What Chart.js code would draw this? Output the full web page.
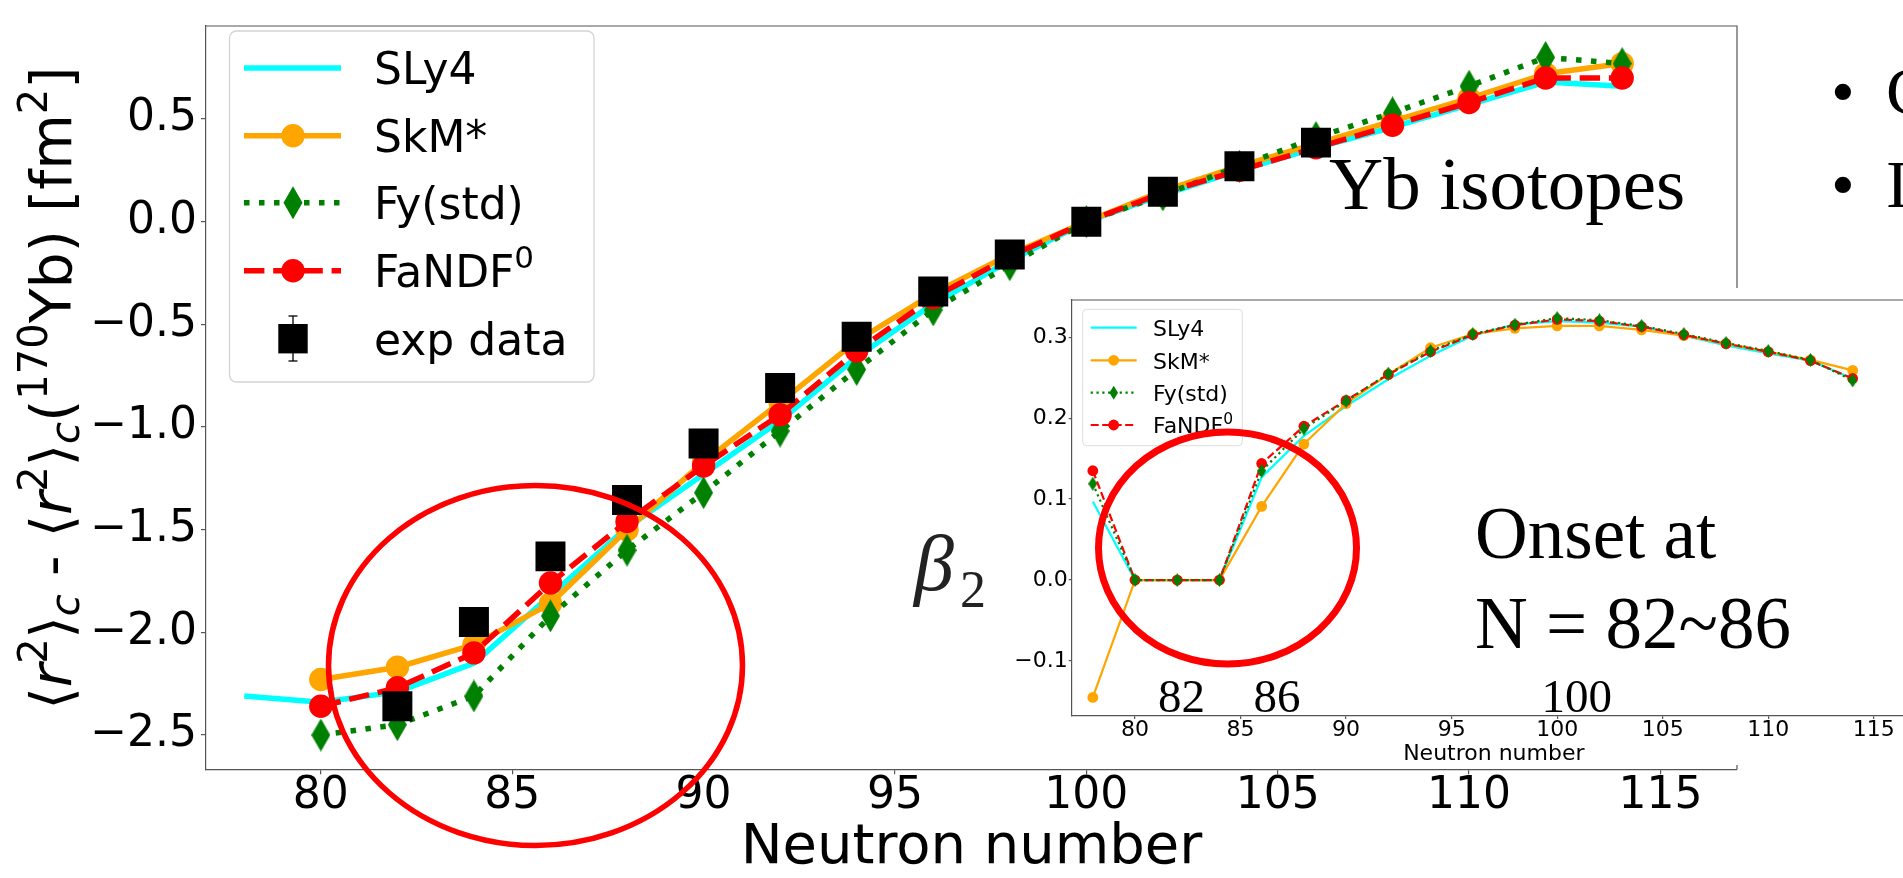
<!DOCTYPE html>
<html><head><meta charset="utf-8">
<script src="https://cdn.jsdelivr.net/npm/chart.js@4.4.1/dist/chart.umd.min.js"></script>
<style>
html,body{margin:0;padding:0;width:1903px;height:878px;overflow:hidden;background:#fff;}
#main{position:absolute;left:0;top:0;}
#insetBg{position:absolute;left:1005px;top:288px;width:898px;height:477px;background:#fff;}
#inset{position:absolute;left:1000px;top:288px;}
#ov{position:absolute;left:0;top:0;}
</style></head><body>
<canvas id="main" width="1903" height="878"></canvas>
<div id="insetBg"></div>
<canvas id="inset" width="930" height="480"></canvas>
<svg id="ov" width="1903" height="878" xmlns="http://www.w3.org/2000/svg">
  <!-- main y-axis title -->
  <text transform="translate(71,388) rotate(-90)" text-anchor="middle" font-family="DejaVu Sans" font-size="57" fill="#000">⟨<tspan font-style="italic">r</tspan><tspan font-size="40" dy="-24">2</tspan><tspan dy="24">⟩</tspan><tspan font-style="italic" font-size="40" dy="8">c</tspan><tspan dy="-8"> - ⟨</tspan><tspan font-style="italic">r</tspan><tspan font-size="40" dy="-24">2</tspan><tspan dy="24">⟩</tspan><tspan font-style="italic" font-size="40" dy="8">c</tspan><tspan dy="-8">(</tspan><tspan font-size="40" dy="-24">170</tspan><tspan dy="24">Yb) [fm</tspan><tspan font-size="40" dy="-24">2</tspan><tspan dy="24">]</tspan></text>

  <!-- main legend -->
  <rect x="229.5" y="31" width="364.5" height="351" rx="7" fill="#fff" fill-opacity="0.85" stroke="#d4d4d4" stroke-width="1.3"/>
  <line x1="244" y1="68" x2="341" y2="68" stroke="#00ffff" stroke-width="5.5"/>
  <line x1="244" y1="135.7" x2="341" y2="135.7" stroke="#ffa500" stroke-width="5.5"/>
  <circle cx="293" cy="135.7" r="11.7" fill="#ffa500"/>
  <line x1="244" y1="202.7" x2="341" y2="202.7" stroke="#008000" stroke-width="5.5" stroke-dasharray="5.5 9.5"/>
  <polygon points="293,186.2 302.5,202.7 293,219.2 283.5,202.7" fill="#008000"/>
  <line x1="244" y1="270.7" x2="341" y2="270.7" stroke="#ff0000" stroke-width="5.5" stroke-dasharray="20.4 8.8"/>
  <circle cx="293" cy="270.7" r="11.7" fill="#ff0000"/>
  <line x1="293" y1="316" x2="293" y2="361" stroke="#000" stroke-width="1.3"/>
  <line x1="288.5" y1="316" x2="297.5" y2="316" stroke="#000" stroke-width="1.3"/>
  <line x1="288.5" y1="361" x2="297.5" y2="361" stroke="#000" stroke-width="1.3"/>
  <rect x="278.3" y="324" width="29.4" height="29.4" fill="#000"/>
  <g font-family="DejaVu Sans" font-size="44" fill="#000">
    <text x="374" y="84">SLy4</text>
    <text x="374" y="151.7">SkM*</text>
    <text x="374" y="218.7">Fy(std)</text>
    <text x="374" y="286.7">FaNDF<tspan font-size="31" dy="-19">0</tspan></text>
    <text x="374" y="354.7">exp data</text>
  </g>

  <!-- slide annotations -->
  <text x="1329" y="209" font-family="Liberation Serif" font-size="75" fill="#000">Yb isotopes</text>
  <text x="1831" y="114" font-family="Liberation Serif" font-size="68" fill="#000">•</text>
  <text x="1886" y="114" font-family="Liberation Serif" font-size="68" fill="#000">C</text>
  <text x="1831" y="207" font-family="Liberation Serif" font-size="68" fill="#000">•</text>
  <text x="1886" y="207" font-family="Liberation Serif" font-size="68" fill="#000">I</text>
  <text x="914" y="590" font-family="Liberation Serif" font-style="italic" font-size="80" fill="#222">β</text>
  <text x="960" y="607" font-family="Liberation Serif" font-size="52" fill="#222">2</text>

  <!-- inset legend -->
  <rect x="1082.7" y="309.3" width="159.6" height="136.4" rx="4" fill="#fff" fill-opacity="0.85" stroke="#dddddd" stroke-width="1"/>
  <line x1="1090.7" y1="327.7" x2="1136.7" y2="327.7" stroke="#00ffff" stroke-width="2.2"/>
  <line x1="1090.7" y1="360.3" x2="1136.7" y2="360.3" stroke="#ffa500" stroke-width="2.2"/>
  <circle cx="1113.7" cy="360.3" r="5.4" fill="#ffa500"/>
  <line x1="1090.7" y1="392.7" x2="1136.7" y2="392.7" stroke="#008000" stroke-width="2.2" stroke-dasharray="2.2 3.6"/>
  <polygon points="1113.7,385.7 1118,392.7 1113.7,399.7 1109.4,392.7" fill="#008000"/>
  <line x1="1090.7" y1="425" x2="1136.7" y2="425" stroke="#ff0000" stroke-width="2.2" stroke-dasharray="8 3.5"/>
  <circle cx="1113.7" cy="425" r="5.4" fill="#ff0000"/>
  <g font-family="DejaVu Sans" font-size="22" fill="#000">
    <text x="1153" y="336">SLy4</text>
    <text x="1153" y="368.6">SkM*</text>
    <text x="1153" y="401">Fy(std)</text>
    <text x="1153" y="433.3">FaNDF<tspan font-size="15.5" dy="-9">0</tspan></text>
  </g>

  <text x="1475" y="558" font-family="Liberation Serif" font-size="73" fill="#000">Onset at</text>
  <text x="1475" y="648" font-family="Liberation Serif" font-size="73" fill="#000">N = 82~86</text>
  <text x="1158" y="711.7" font-family="Liberation Serif" font-size="47" fill="#000">82</text>
  <text x="1253.5" y="711.7" font-family="Liberation Serif" font-size="47" fill="#000">86</text>
  <text x="1541.5" y="711.7" font-family="Liberation Serif" font-size="47" fill="#000">100</text>

  <!-- red ellipses -->
  <ellipse cx="535.5" cy="665.5" rx="207" ry="180" fill="none" stroke="#ff0000" stroke-width="5.5"/>
  <ellipse cx="1227.5" cy="548" rx="129" ry="116" fill="none" stroke="#ff0000" stroke-width="7"/>
</svg>
<script>
// ---------- data ----------
const neutronN = [78,80,82,84,86,88,90,92,94,96,98,100,102,104,106,108,110,112,114];
// main panel: <r^2>_c - <r^2>_c(170Yb) [fm^2]
const radSLy4  = [-2.31,-2.34,-2.29,-2.15,-1.82,-1.49,-1.23,-0.97,-0.66,-0.40,-0.19,0,0.13,0.25,0.36,0.46,0.57,0.68,0.66];
const radSkM   = [null,-2.23,-2.17,-2.06,-1.86,-1.50,-1.17,-0.88,-0.58,-0.35,-0.16,0,0.15,0.27,0.38,0.49,0.60,0.72,0.77];
const radFy    = [null,-2.50,-2.45,-2.31,-1.92,-1.60,-1.32,-1.02,-0.72,-0.43,-0.21,0,0.13,0.27,0.41,0.53,0.66,0.80,0.77];
const radFaNDF = [null,-2.36,-2.27,-2.10,-1.76,-1.46,-1.19,-0.94,-0.63,-0.37,-0.17,0,0.14,0.25,0.36,0.47,0.58,0.70,0.70];
const expN     = [82,84,86,88,90,92,94,96,98,100,102,104,106];
const expRad   = [-2.36,-1.95,-1.63,-1.355,-1.08,-0.81,-0.56,-0.34,-0.16,0,0.146,0.27,0.385];
// inset: beta2
const beta2SLy4  = [0.097,0,0,0,0.127,0.178,0.215,0.248,0.277,0.302,0.316,0.320,0.318,0.313,0.302,0.290,0.280,0.271,0.249];
const beta2SkM   = [-0.145,0,0,0,0.091,0.168,0.218,0.254,0.287,0.304,0.311,0.314,0.314,0.309,0.302,0.292,0.282,0.272,0.259];
const beta2Fy    = [0.119,0,0,0,0.135,0.187,0.221,0.255,0.283,0.304,0.3155,0.3237,0.321,0.314,0.304,0.293,0.283,0.272,0.2466];
const beta2FaNDF = [0.135,0,0,0,0.144,0.190,0.222,0.254,0.282,0.303,0.315,0.322,0.320,0.313,0.303,0.292,0.282,0.271,0.249];
// ticks
const mainXTicks  = [80,85,90,95,100,105,110,115];
const mainYTicks  = [-2.5,-2.0,-1.5,-1.0,-0.5,0.0,0.5];
const insetXTicks = [80,85,90,95,100,105,110,115];
const insetYTicks = [-0.1,0.0,0.1,0.2,0.3];

// ---------- helpers ----------
function pts(xs, ys){ const out=[]; xs.forEach((x,i)=>{ if(ys[i]!==null && ys[i]!==undefined) out.push({x:x,y:ys[i]}); }); return out; }
function diamond(w,h,color){
  const c=document.createElement('canvas'); c.width=w; c.height=h;
  const g=c.getContext('2d'); g.fillStyle=color; g.beginPath();
  g.moveTo(w/2,0); g.lineTo(w,h/2); g.lineTo(w/2,h); g.lineTo(0,h/2); g.closePath(); g.fill(); return c;
}
const fmtY = v => (v<0?'\u2212':'') + Math.abs(v).toFixed(1);
const spineColor = '#555';
function framePlugin(id){ return {id:id, afterDraw(c){ const {ctx, chartArea:a}=c; ctx.save(); ctx.strokeStyle=spineColor; ctx.lineWidth=1.2; ctx.beginPath(); ctx.moveTo(a.left,a.top); ctx.lineTo(a.right,a.top); ctx.lineTo(a.right,a.bottom); ctx.stroke(); ctx.restore(); }}; }
function axisOpts(o){
  return {
    type:'linear', min:o.min, max:o.max,
    afterFit: s => { if (s.isHorizontal()) s.height=o.size; else s.width=o.size; },
    afterBuildTicks: s => { s.ticks = o.ticks.map(v=>({value:v})); },
    grid:{display:true, drawOnChartArea:false, drawTicks:true, tickLength:o.tl, color:spineColor, lineWidth:1.2},
    border:{display:true, color:spineColor, width:1.2},
    ticks:{font:{family:'DejaVu Sans', size:o.fs, lineHeight:1}, color:'#000', padding:o.pad, maxRotation:0, autoSkip:false, callback:o.cb},
    title:o.title || {display:false}
  };
}

// ---------- main chart ----------
const dMain = diamond(19,33,'#008000');
new Chart(document.getElementById('main'), {
  type:'line',
  data:{datasets:[
    {label:'SLy4', data:pts(neutronN,radSLy4), borderColor:'#00ffff', borderWidth:5.5, pointRadius:0, borderJoinStyle:'round', order:5},
    {label:'SkM*', data:pts(neutronN,radSkM), borderColor:'#ffa500', backgroundColor:'#ffa500', borderWidth:5.5, pointRadius:11.7, pointBorderWidth:0, pointBackgroundColor:'#ffa500', borderJoinStyle:'round', order:4},
    {label:'Fy(std)', data:pts(neutronN,radFy), borderColor:'#008000', borderWidth:5.5, borderDash:[5.5,9.5], pointStyle:dMain, pointRadius:10, order:3},
    {label:'FaNDF0', data:pts(neutronN,radFaNDF), borderColor:'#ff0000', backgroundColor:'#ff0000', borderWidth:5.5, borderDash:[20.4,8.8], pointRadius:11.7, pointBorderWidth:0, pointBackgroundColor:'#ff0000', order:2},
    {label:'exp data', data:pts(expN,expRad), showLine:false, pointStyle:'rect', pointRadius:21.2, pointBorderWidth:0, pointBackgroundColor:'#000', backgroundColor:'#000', borderColor:'#000', order:1}
  ]},
  options:{
    responsive:false, animation:false, devicePixelRatio:1,
    layout:{padding:{left:0, top:7.3, right:166, bottom:0}},
    plugins:{legend:{display:false}, tooltip:{enabled:false}},
    scales:{
      x: axisOpts({min:77, max:117, size:108.7, ticks:mainXTicks, tl:5, fs:44, pad:0, cb:v=>String(v),
          title:{display:true, text:'Neutron number', font:{family:'DejaVu Sans', size:56, lineHeight:1}, color:'#000', padding:{top:0,bottom:1.5}}}),
      y: axisOpts({min:-2.667, max:0.953, size:206, ticks:mainYTicks, tl:5, fs:44, pad:4, cb:fmtY})
    }
  },
  plugins:[framePlugin('frameMain')]
});

// ---------- inset chart ----------
const dIn = diamond(9,14,'#008000');
new Chart(document.getElementById('inset'), {
  type:'line',
  data:{datasets:[
    {label:'SLy4', data:pts(neutronN,beta2SLy4), borderColor:'#00ffff', borderWidth:2.2, pointRadius:0, order:4},
    {label:'SkM*', data:pts(neutronN,beta2SkM), borderColor:'#ffa500', borderWidth:2.2, pointRadius:5.4, pointBorderWidth:0, pointBackgroundColor:'#ffa500', order:3},
    {label:'Fy(std)', data:pts(neutronN,beta2Fy), borderColor:'#008000', borderWidth:2.2, borderDash:[2.2,3.6], pointStyle:dIn, pointRadius:5, order:1},
    {label:'FaNDF0', data:pts(neutronN,beta2FaNDF), borderColor:'#ff0000', borderWidth:2.2, borderDash:[8,3.5], pointRadius:5.4, pointBorderWidth:0, pointBackgroundColor:'#ff0000', order:2}
  ]},
  options:{
    responsive:false, animation:false, devicePixelRatio:1,
    layout:{padding:{left:0, top:10.3, right:14, bottom:0}},
    plugins:{legend:{display:false}, tooltip:{enabled:false}},
    scales:{
      x: axisOpts({min:77, max:117, size:52, ticks:insetXTicks, tl:3, fs:22, pad:0.5, cb:v=>String(v),
          title:{display:true, text:'Neutron number', font:{family:'DejaVu Sans', size:22, lineHeight:1}, color:'#000', padding:{top:0,bottom:2.9}}}),
      y: axisOpts({min:-0.168, max:0.346, size:71.7, ticks:insetYTicks, tl:3, fs:22, pad:1, cb:fmtY})
    }
  },
  plugins:[framePlugin('frameInset')]
});
</script>
</body></html>
